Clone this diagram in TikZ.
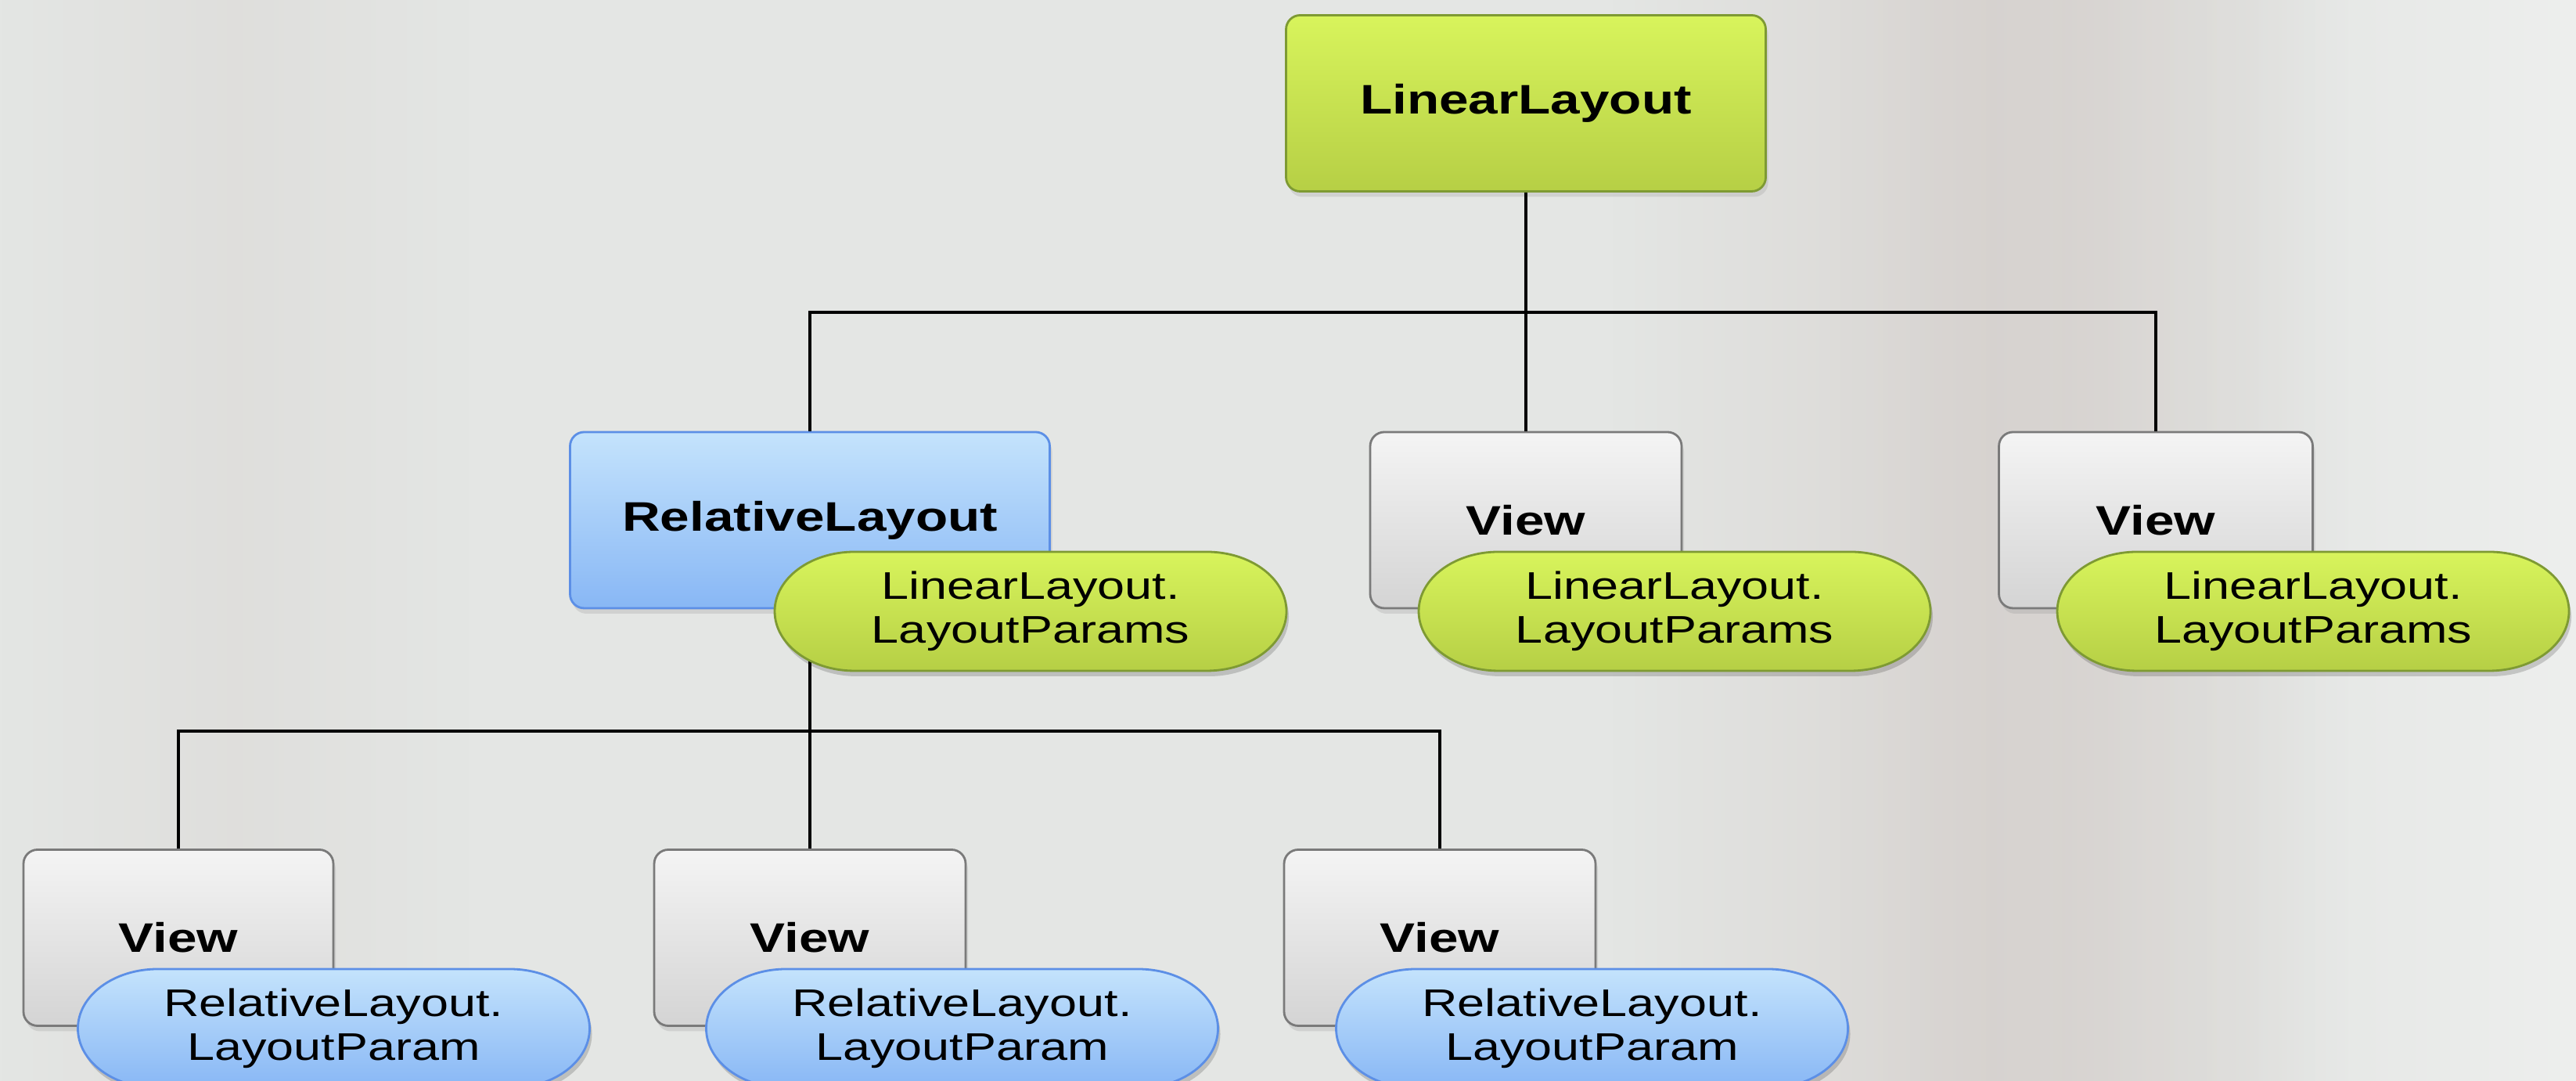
\documentclass[tikz,border=0pt]{standalone}
\usepackage{fontspec}
\newfontfamily\dfont[FakeStretch=1.28]{Liberation Sans}
\usetikzlibrary{shadows,fadings}
\definecolor{bg}{HTML}{E4E6E4}
\definecolor{neb}{HTML}{C9BEBA}
\definecolor{grnt}{HTML}{D8F45C}
\definecolor{grnbot}{HTML}{B6CF45}
\definecolor{grnb}{HTML}{7E9A33}
\definecolor{blut}{HTML}{C4E3FC}
\definecolor{blubot}{HTML}{88B7F5}
\definecolor{blub}{HTML}{5C8FE6}
\definecolor{gryt}{HTML}{F4F4F4}
\definecolor{grybot}{HTML}{D4D4D4}
\definecolor{gryb}{HTML}{7A7A7A}
\tikzfading[name=midsoft, left color=transparent!100, right color=transparent!100, middle color=transparent!0]
\tikzfading[name=tolight, left color=transparent!100, right color=transparent!0]
\tikzset{
  box/.style={draw, rounded corners=0.18cm, minimum height=2.25cm, line width=0.8pt,
    font=\dfont\bfseries\fontsize{15}{18}\selectfont, text=black, inner sep=0pt,
    drop shadow={opacity=0.2, shadow xshift=0.03cm, shadow yshift=-0.07cm}},
  greenbox/.style={box, draw=grnb, top color=grnt, bottom color=grnbot},
  bluebox/.style={box, draw=blub, top color=blut, bottom color=blubot},
  greybox/.style={box, draw=gryb, top color=gryt, bottom color=grybot},
  pilltext/.style={align=center, font=\dfont\fontsize{14}{16}\selectfont, inner sep=0pt, text=black},
  greenpill/.style={draw=grnb, line width=0.8pt, top color=grnt, bottom color=grnbot},
  bluepill/.style={draw=blub, line width=0.8pt, top color=blut, bottom color=blubot},
  link/.style={line width=0.9pt, black},
}
% #1 = x, #2 = y, #3 = style
\newcommand{\pillshape}[3]{%
  \path[fill=black, opacity=0.17] (#1-2.25+0.03,#2+0.76-0.07) -- (#1+2.25+0.03,#2+0.76-0.07)
    arc[start angle=90,end angle=-90,x radius=1.02,y radius=0.76] -- (#1-2.25+0.03,#2-0.76-0.07)
    arc[start angle=270,end angle=90,x radius=1.02,y radius=0.76] -- cycle;
  \path[#3] (#1-2.25,#2+0.76) -- (#1+2.25,#2+0.76)
    arc[start angle=90,end angle=-90,x radius=1.02,y radius=0.76] -- (#1-2.25,#2-0.76)
    arc[start angle=270,end angle=90,x radius=1.02,y radius=0.76] -- cycle;}
\begin{document}
\begin{tikzpicture}
\useasboundingbox (0,0) rectangle (32.92,13.81);
\clip (0,0) rectangle (32.92,13.81);
% background
\fill[bg] (0,0) rectangle (32.92,13.81);
\fill[neb, opacity=0.4, path fading=midsoft] (20.6,0) rectangle (30.0,13.81);
\fill[neb, opacity=0.2, path fading=midsoft] (23.5,0) rectangle (29.6,13.81);
\fill[white, opacity=0.35, path fading=tolight] (28.5,0) rectangle (32.92,13.81);
\fill[neb, opacity=0.18, path fading=midsoft] (0,0) rectangle (6,13.81);

% boxes
\node[greenbox, minimum width=6.13cm] (root) at (19.50,12.49) {LinearLayout};
\node[bluebox, minimum width=6.13cm] (rl) at (10.35,7.165) {RelativeLayout};
\node[greybox, minimum width=3.98cm] (v2) at (19.50,7.165) {View};
\node[greybox, minimum width=4.01cm] (v3) at (27.55,7.165) {View};
\node[greybox, minimum width=3.96cm] (b1) at (2.28,1.83) {View};
\node[greybox, minimum width=3.98cm] (b2) at (10.35,1.83) {View};
\node[greybox, minimum width=3.98cm] (b3) at (18.40,1.83) {View};

% connectors
\coordinate (j1) at (19.50,9.82);
\coordinate (j2) at (10.35,4.47);
\draw[link] (root.south) -- (j1) -- (v2.north);
\draw[link] (rl.north) |- (j1) -| (v3.north);
\draw[link] (rl.south) -- (j2) -- (b2.north);
\draw[link] (b1.north) |- (j2) -| (b3.north);

% layout params
\pillshape{13.17}{6.0}{greenpill}
\node[pilltext] (p1) at (13.17,6.0) {LinearLayout.\\LayoutParams};
\pillshape{21.40}{6.0}{greenpill}
\node[pilltext] (p2) at (21.40,6.0) {LinearLayout.\\LayoutParams};
\pillshape{29.56}{6.0}{greenpill}
\node[pilltext] (p3) at (29.56,6.0) {LinearLayout.\\LayoutParams};
\pillshape{4.265}{0.67}{bluepill}
\node[pilltext] (q1) at (4.265,0.67) {RelativeLayout.\\LayoutParam};
\pillshape{12.295}{0.67}{bluepill}
\node[pilltext] (q2) at (12.295,0.67) {RelativeLayout.\\LayoutParam};
\pillshape{20.345}{0.67}{bluepill}
\node[pilltext] (q3) at (20.345,0.67) {RelativeLayout.\\LayoutParam};
\end{tikzpicture}
\end{document}
